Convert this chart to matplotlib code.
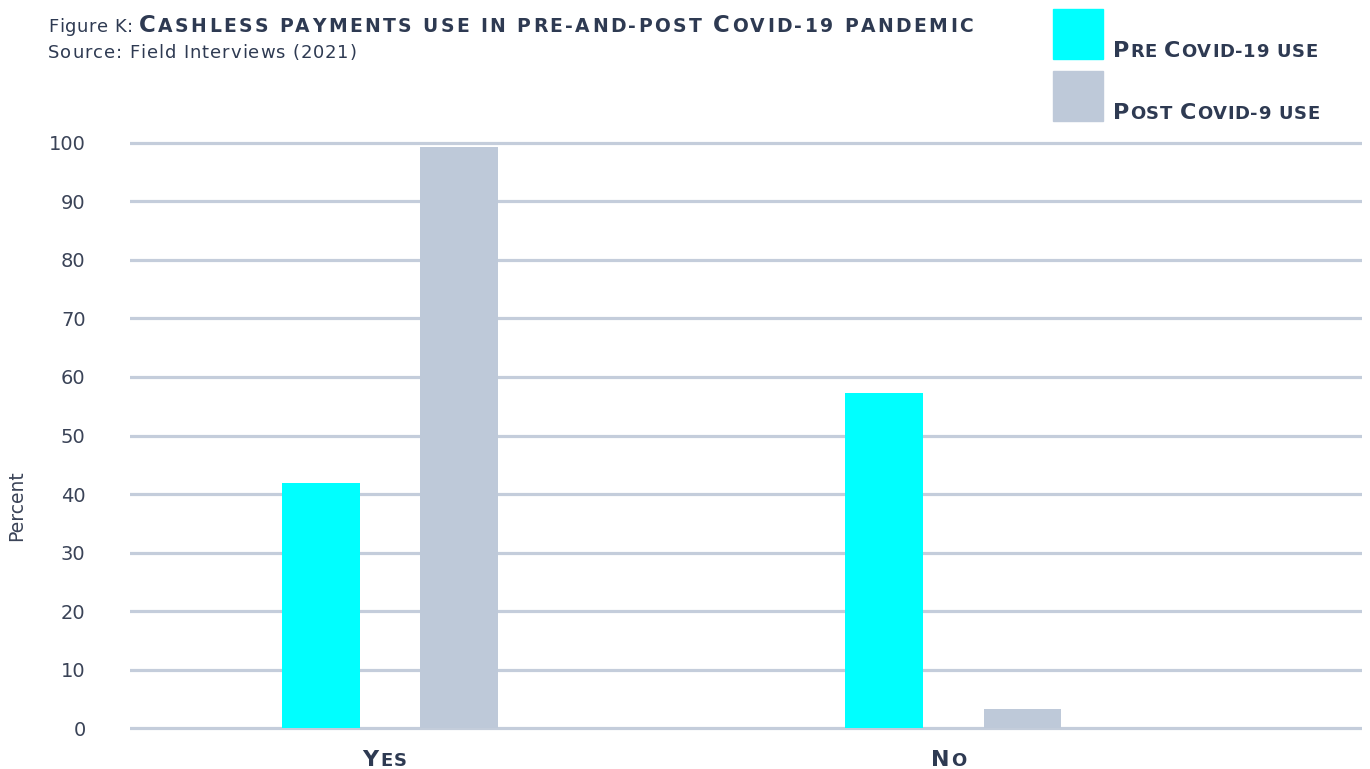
import matplotlib.pyplot as plt
import numpy as np

# bar data (percent of respondents)
categories = ["Yes", "No"]
pre_use = [41.8, 57.3]
post_use = [99.3, 3.2]
series_names = ["Pre Covid-19 use", "Post Covid-9 use"]

CYAN = "#00FFFF"
GREY = "#BEC9D9"
GRID = "#C4CDDB"
INK = "#2E3A52"
TICK = "#3A4357"

plt.rcParams['font.family'] = ['DejaVu Sans']

fig = plt.figure(figsize=(13.7, 7.69), dpi=100)
W, H = 1370, 769

# axes placed in pixel terms
ax = fig.add_axes([130 / W, (769 - 734) / H, 1232 / W, 597 / H])

x = np.arange(len(categories))
bw = 0.138
off = 0.1225
ax.bar(x - off, pre_use, bw, color=CYAN, zorder=3)
ax.bar(x + off, post_use, bw, color=GREY, zorder=3)

ax.set_xlim(-0.461, 1.725)
ax.set_ylim(-1, 101)
ax.set_yticks(range(0, 101, 10))
ax.yaxis.grid(True, color=GRID, linewidth=2.3, zorder=0)
ax.set_axisbelow(True)
ax.tick_params(axis='y', length=0, pad=32, labelsize=14, labelcolor=TICK)
ax.set_xticks([])
for s in ax.spines.values():
    s.set_visible(False)

fig.text(17 / W, 1 - 506 / H, "Percent", rotation=90, ha='center', va='center',
         fontsize=13.5, color=TICK)

renderer = fig.canvas.get_renderer()
_wcache = {}


def char_width(c, size, weight):
    key = (c, size, weight)
    if key not in _wcache:
        if c == ' ':
            a = fig.text(0, 0, "x x", fontsize=size, weight=weight)
            b = fig.text(0, 0, "xx", fontsize=size, weight=weight)
            w = a.get_window_extent(renderer).width - b.get_window_extent(renderer).width
            a.remove()
            b.remove()
        else:
            t = fig.text(0, 0, c, fontsize=size, weight=weight)
            w = t.get_window_extent(renderer).width
            t.remove()
        _wcache[key] = w
    return _wcache[key]


def tracked(xp, yp, s, big, small=None, track=0.0, ha='left', weight='bold', color=INK):
    # draws text letter by letter with extra spacing; with small set, lower case
    # letters become small capitals. xp, yp are pixels from top-left (yp = baseline)
    glyphs = []
    for ch in s:
        if small is not None and not ch.isupper():
            c, size = ch.upper(), small
        else:
            c, size = ch, big
        glyphs.append((c, size, char_width(c, size, weight)))
    total = sum(w for _, _, w in glyphs) + track * (len(glyphs) - 1)
    cur = xp - total / 2 if ha == 'center' else xp
    for c, size, w in glyphs:
        if c != ' ':
            fig.text(cur / W, 1 - yp / H, c, fontsize=size, weight=weight,
                     color=color, ha='left', va='baseline')
        cur += w + track
    return cur


# title block
end = tracked(48, 32, "Figure K:", 13, track=0.6, weight='normal')
tracked(end + 5, 32, "Cashless payments use in pre-and-post Covid-19 pandemic", 16.5, 13.5, track=2.4)
tracked(48, 58, "Source: Field Interviews (2021)", 13, track=0.9, weight='normal')

# legend squares with labels
for i, (name, col) in enumerate(zip(series_names, [CYAN, GREY])):
    top = 9 + i * 62
    fig.patches.append(plt.Rectangle((1053 / W, 1 - (top + 50) / H), 50 / W, 50 / H,
                                     transform=fig.transFigure, color=col))
    tracked(1113, top + 48, name, 16, 13, track=0.7)

# category labels
for xi, cat in zip(x, categories):
    px = ax.transData.transform((xi, 0))[0]
    tracked(px - 5, 766, cat, 16, 13, track=1.5, ha='center')

fig.savefig("out.png", dpi=100)
